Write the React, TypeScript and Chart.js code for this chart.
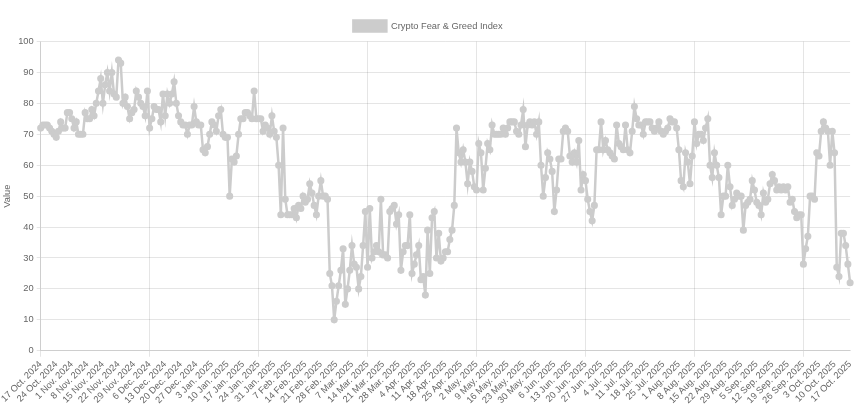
import React, { useEffect, useRef } from "react";
import { Chart, registerables } from "chart.js";

Chart.register(...registerables);

// Crypto Fear & Greed Index, daily values
const oct2024 = [72, 73, 73, 73, 72, 71, 70, 69, 71, 74, 72, 72, 77, 77];
const nov2024 = [75, 72, 74, 70, 70, 70, 77, 75, 75, 78, 76, 80, 84, 88, 80, 86, 90, 84, 90, 83, 82, 94, 93, 80, 82, 79, 75, 77, 78, 84];
const dec2024 = [82, 80, 79, 76, 84, 72, 75, 79, 78, 78, 74, 83, 76, 83, 80, 83, 87, 80, 76, 74, 73, 73, 70, 73, 73, 79, 74, 73, 73, 65, 64];
const jan2025 = [66, 70, 74, 73, 71, 76, 78, 70, 69, 69, 50, 62, 61, 63, 70, 75, 75, 77, 77, 76, 75, 84, 75, 75, 75, 71, 73, 72, 70, 76, 71];
const feb2025 = [69, 60, 44, 72, 49, 44, 44, 44, 46, 43, 47, 46, 50, 48, 49, 54, 51, 47, 44, 50, 55, 50, 50, 49, 25, 21, 10, 16];
const mar2025 = [21, 26, 33, 15, 20, 26, 34, 28, 27, 20, 24, 34, 45, 27, 46, 30, 32, 34, 32, 49, 31, 31, 30, 45, 46, 47, 41, 44, 26, 32, 34];
const apr2025 = [34, 44, 25, 28, 31, 34, 23, 24, 18, 39, 25, 43, 45, 30, 38, 29, 30, 32, 32, 36, 39, 47, 72, 64, 61, 65, 61, 54, 61, 58];
const may2025 = [53, 52, 67, 64, 52, 59, 67, 65, 73, 70, 70, 70, 70, 72, 70, 72, 74, 74, 74, 71, 70, 73, 78, 66, 73, 74, 73, 74, 70, 74, 60];
const jun2025 = [50, 56, 64, 62, 58, 45, 52, 62, 62, 71, 72, 71, 63, 61, 64, 61, 68, 52, 57, 55, 49, 45, 42, 47, 65, 65, 74, 65, 68, 65];
const jul2025 = [64, 63, 62, 73, 67, 66, 65, 73, 65, 64, 71, 79, 75, 73, 73, 70, 74, 74, 74, 72, 71, 72, 74, 71, 70, 71, 72, 75, 74, 74, 72];
const aug2025 = [65, 55, 53, 64, 61, 54, 63, 74, 67, 70, 70, 68, 72, 75, 60, 56, 64, 60, 56, 44, 50, 50, 60, 53, 47, 49, 51, 50, 50, 39, 47];
const sep2025 = [48, 49, 55, 52, 48, 47, 44, 51, 48, 49, 54, 57, 55, 52, 53, 52, 53, 52, 53, 48, 49, 45, 43, 44, 44, 28, 33, 37, 50, 50];
const oct2025 = [49, 64, 63, 71, 74, 72, 71, 60, 71, 64, 27, 24, 38, 38, 34, 28, 22];

const monthBlocks = [
  { year: 2024, month: "Oct", firstDay: 17, values: oct2024 },
  { year: 2024, month: "Nov", firstDay: 1, values: nov2024 },
  { year: 2024, month: "Dec", firstDay: 1, values: dec2024 },
  { year: 2025, month: "Jan", firstDay: 1, values: jan2025 },
  { year: 2025, month: "Feb", firstDay: 1, values: feb2025 },
  { year: 2025, month: "Mar", firstDay: 1, values: mar2025 },
  { year: 2025, month: "Apr", firstDay: 1, values: apr2025 },
  { year: 2025, month: "May", firstDay: 1, values: may2025 },
  { year: 2025, month: "Jun", firstDay: 1, values: jun2025 },
  { year: 2025, month: "Jul", firstDay: 1, values: jul2025 },
  { year: 2025, month: "Aug", firstDay: 1, values: aug2025 },
  { year: 2025, month: "Sep", firstDay: 1, values: sep2025 },
  { year: 2025, month: "Oct", firstDay: 1, values: oct2025 },
];

const values = monthBlocks.flatMap((b) => b.values);
const labels = monthBlocks.flatMap((b) =>
  b.values.map((_, i) => `${b.firstDay + i} ${b.month}. ${b.year}`)
);

const LABEL_EVERY = 7;
const GRAY = "rgb(204, 204, 204)";
const GRID = "rgba(0, 0, 0, 0.1)";
const FONT = "'Liberation Sans', Arial, Helvetica, sans-serif";
const FS = 9.3;

export default function App() {
  const ref = useRef<HTMLCanvasElement | null>(null);

  useEffect(() => {
    document.body.style.margin = "0";
    if (!ref.current) return;
    const chart = new Chart(ref.current, {
      type: "line",
      data: {
        labels,
        datasets: [
          {
            label: "Crypto Fear & Greed Index",
            data: values,
            borderColor: GRAY,
            backgroundColor: GRAY,
            pointBackgroundColor: GRAY,
            pointBorderColor: GRAY,
            borderWidth: 2.5,
            pointRadius: 2.3,
            tension: 0,
            fill: false,
          },
        ],
      },
      options: {
        animation: false,
        responsive: true,
        maintainAspectRatio: false,
        layout: { padding: { top: 19, left: 2, right: 6, bottom: 11 } },
        font: { family: FONT, size: FS },
        plugins: {
          legend: {
            display: true,
            position: "top",
            labels: {
              color: "#666",
              font: { family: FONT, size: FS },
              boxWidth: 33,
              boxHeight: 11,
              padding: 1.5,
            },
          },
          tooltip: { enabled: false },
        },
        scales: {
          x: {
            grid: {
              color: (ctx: any) => (ctx.index % LABEL_EVERY === 0 ? GRID : "transparent"),
              tickColor: (ctx: any) => (ctx.index % LABEL_EVERY === 0 ? GRID : "transparent"),
              tickLength: 6,
            },
            ticks: {
              autoSkip: false,
              minRotation: 45,
              maxRotation: 45,
              color: "#666",
              font: { family: FONT, size: FS },
              padding: 2,
              callback: (_v: any, i: number) => (i % LABEL_EVERY === 0 ? labels[i] : null),
            },
          },
          y: {
            min: 0,
            max: 100,
            ticks: {
              stepSize: 10,
              color: "#666",
              font: { family: FONT, size: FS },
              padding: 3,
            },
            grid: { color: GRID, tickLength: 4 },
            title: {
              display: true,
              text: "Value",
              color: "#666",
              font: { family: FONT, size: FS },
              padding: { top: 0, bottom: 2 },
            },
          },
        },
      },
    });
    return () => chart.destroy();
  }, []);

  return (
    <div style={{ position: "relative", width: "860px", height: "419px" }}>
      <canvas ref={ref} />
    </div>
  );
}
